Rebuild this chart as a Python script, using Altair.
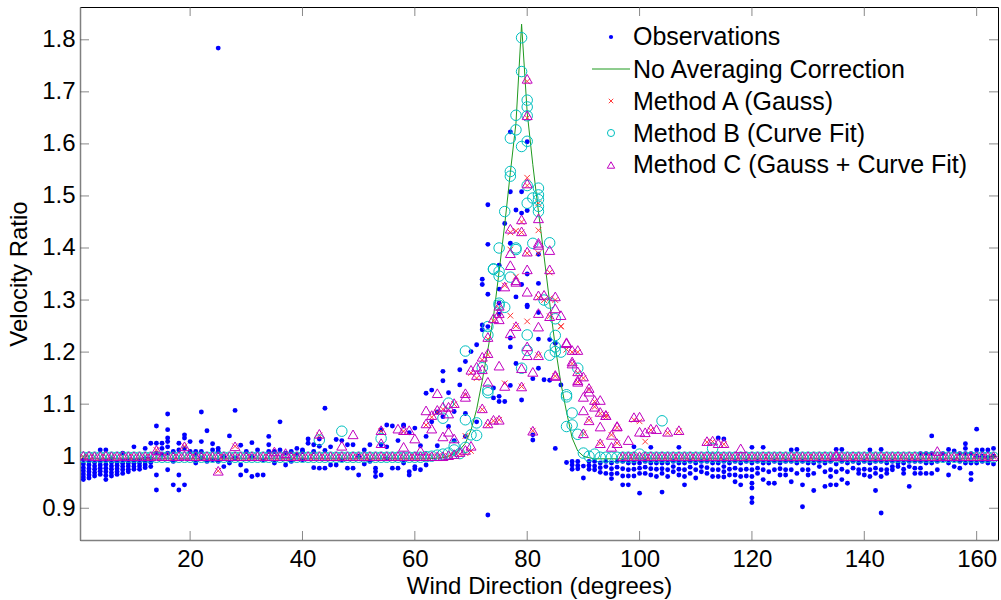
import altair as alt
import pandas as pd

FONT = "Liberation Sans"

# wind direction bins (degrees)
deg = list(range(1, 164))

# observed velocity ratios, one list per degree bin (1..163)
obs_cols = [
    [0.993, 0.985, 0.978, 0.972, 0.966, 0.960, 0.955],
    [0.990, 0.983, 0.976, 0.970, 0.964, 0.958],
    [0.988, 0.981, 0.975, 0.968, 0.962],
    [1.012, 0.990, 0.983, 0.977, 0.971, 0.965],
    [1.012, 0.992, 0.984, 0.977, 0.970, 0.963, 0.955],
    [0.995, 0.988, 0.981, 0.975, 0.968, 0.962],
    [0.988, 0.982, 0.976, 0.970, 0.965],
    [1.006, 0.992, 0.986, 0.980, 0.974, 0.967],
    [0.993, 0.987, 0.981, 0.975, 0.970],
    [1.018, 0.992, 0.986, 0.980, 0.975],
    [0.993, 0.987, 0.981, 0.975],
    [1.015, 0.995, 0.989, 0.983, 0.978],
    [1.025, 0.995, 0.988, 0.980],
    [1.058, 1.025, 1.006, 0.964, 0.935],
    [1.025, 1.015, 1.003],
    [1.081, 1.051, 1.035, 1.028, 1.018, 1.006, 0.974],
    [1.009, 0.990, 0.945],
    [1.025, 1.012, 0.964, 0.935],
    [1.041, 1.035, 1.015, 0.945],
    [1.028, 1.009],
    [1.009, 1.003, 0.987],
    [1.085, 1.028, 1.009, 0.996],
    [1.049, 0.990],
    [1.024, 1.012, 0.993],
    [1.784, 1.015, 1.009, 0.990],
    [0.999, 0.980],
    [1.039, 0.987],
    [1.088, 0.996],
    [1.021, 0.983, 0.964],
    [1.009, 0.972],
    [1.026, 0.999, 0.961],
    [1.012, 0.964],
    [0.993, 0.964],
    [1.038, 1.022, 1.009],
    [1.009, 0.987],
    [1.066, 1.012],
    [1.006, 0.983],
    [1.009, 0.990],
    [1.015, 1.003],
    [1.012, 1.009, 0.993],
    [1.033, 1.025],
    [1.022, 1.009, 0.978],
    [1.033, 1.019, 0.977],
    [1.092, 1.011, 0.977],
    [1.018, 0.983],
    [1.032, 0.983],
    [1.030, 0.993],
    [1.022, 0.977],
    [1.022, 0.977],
    [1.000, 0.964],
    [1.012, 0.985],
    [1.022, 0.990],
    [0.977, 0.970, 0.961],
    [1.051, 1.022, 0.964],
    [1.060, 1.018, 0.995],
    [1.058, 0.977],
    [1.030, 0.977],
    [1.060, 1.058, 0.987],
    [1.045, 0.970, 0.964],
    [1.054, 0.980, 0.976],
    [1.020, 0.974],
    [1.121, 1.038, 0.983],
    [1.127, 1.066],
    [1.085, 1.020],
    [1.163, 1.145, 1.076],
    [1.122, 1.057],
    [1.086, 1.030],
    [1.166, 1.137],
    [1.182, 1.082, 1.038],
    [1.201],
    [1.214, 1.066],
    [1.340, 1.330, 1.252, 1.243],
    [1.483, 1.407, 1.311, 1.249, 0.887],
    [1.131, 1.112],
    [1.367, 1.321, 1.294, 1.273, 1.115, 1.105],
    [1.447, 1.105],
    [1.623, 1.508, 1.409, 1.227, 1.210, 1.136],
    [1.473, 1.306, 1.178],
    [1.508, 1.467, 1.330, 1.108],
    [1.604, 1.472, 1.350, 1.290, 1.287],
    [1.149, 1.041, 1.031],
    [1.388, 1.332, 1.276, 1.225, 1.169],
    [1.147],
    [1.224, 1.146],
    [1.217, 1.015],
    [1.137],
    [0.988],
    [0.990, 0.983, 0.975],
    [0.990, 0.982, 0.976],
    [0.981, 0.958],
    [0.990, 0.982, 0.975],
    [0.990, 0.981, 0.974],
    [0.987, 0.978, 0.969],
    [0.990, 0.980, 0.967],
    [0.987, 0.976, 0.966, 0.957],
    [0.990, 0.979, 0.967],
    [0.990, 0.976, 0.962, 0.945],
    [0.987, 0.974, 0.962, 0.945],
    [1.018, 0.987, 0.975, 0.962],
    [0.987, 0.977, 0.967, 0.929],
    [0.990, 0.979, 0.967],
    [1.017, 0.987, 0.976, 0.964],
    [0.987, 0.975, 0.961],
    [0.987, 0.976, 0.967, 0.931],
    [0.987, 0.974, 0.961],
    [0.990, 0.980, 0.970],
    [1.017, 0.987, 0.975, 0.964],
    [0.987, 0.974, 0.961, 0.945],
    [0.990, 0.979, 0.967],
    [0.987, 0.974, 0.958],
    [0.990, 0.980, 0.970],
    [0.990, 0.978, 0.967],
    [0.987, 0.974, 0.961],
    [1.035, 0.987, 0.974, 0.961],
    [1.033, 0.990, 0.980, 0.970, 0.960],
    [0.987, 0.975, 0.964],
    [0.990, 0.977, 0.964, 0.951],
    [0.987, 0.974, 0.961, 0.945],
    [0.990, 0.975, 0.962],
    [1.017, 0.987, 0.974, 0.961, 0.948, 0.939, 0.920, 0.911],
    [0.990, 0.977, 0.967],
    [1.017, 0.987, 0.974, 0.955],
    [0.987, 0.970, 0.948],
    [0.990, 0.974, 0.948],
    [0.987, 0.976, 0.964],
    [0.990, 0.974, 0.964],
    [1.012, 0.990, 0.974, 0.951],
    [1.013, 0.987, 0.967],
    [0.990, 0.974, 0.945, 0.903],
    [0.987, 0.974, 0.964],
    [0.987, 0.967, 0.934],
    [0.990, 0.980],
    [0.987, 0.970, 0.942],
    [0.990, 0.974, 0.961, 0.945],
    [1.013, 0.985, 0.970, 0.945],
    [1.013, 0.990, 0.975, 0.955],
    [0.987, 0.970, 0.948],
    [0.990, 0.977],
    [0.987, 0.974, 0.967],
    [0.990, 0.975, 0.964],
    [1.012, 0.987, 0.974, 0.961],
    [0.990, 0.977, 0.967, 0.934],
    [1.013, 0.990, 0.974, 0.961, 0.891],
    [0.987, 0.974, 0.967],
    [0.990, 0.980, 0.974],
    [0.987, 0.980],
    [0.987, 0.975, 0.967],
    [0.990, 0.980, 0.942],
    [0.990, 0.977, 0.967],
    [1.005, 0.990, 0.977, 0.967],
    [1.005, 0.987, 0.967],
    [1.039, 1.005, 0.987, 0.967],
    [0.990, 0.974],
    [1.005, 0.993],
    [1.013, 0.987, 0.964],
    [1.010, 0.993, 0.980],
    [1.005, 0.990, 0.977],
    [1.024, 1.015, 1.005, 0.987],
    [1.005, 0.987, 0.967, 0.955],
    [1.052, 1.012, 1.000, 0.987],
    [1.012, 1.000, 0.990],
    [1.012, 0.997, 0.987],
    [1.015, 1.000, 0.985],
]

# No averaging correction curve
line_x = [1, 60, 62, 64, 65, 66, 67, 68, 69, 70, 71, 72, 73, 74, 75, 76, 77, 78,
          79, 80, 81, 82, 83, 84, 85, 86, 87, 88, 89, 90, 91, 92, 163]
line_y = [0.995, 0.995, 0.995, 0.996, 0.997, 1.000, 1.005, 1.012, 1.025, 1.050,
          1.090, 1.145, 1.205, 1.268, 1.355, 1.445, 1.545, 1.640, 1.830, 1.660,
          1.560, 1.470, 1.384, 1.295, 1.210, 1.140, 1.085, 1.035, 1.010, 1.000,
          0.997, 0.995, 0.995]

# corrected ratios: one value per degree bin ...
mA_base = [
    0.999, 0.999, 0.999, 0.999, 0.999, 0.999, 0.999, 0.999, 0.999, 0.999,
    0.999, 0.999, 0.999, 0.999, 0.999, 0.999, 0.999, 0.999, 0.999, 0.999,
    0.999, 0.999, 0.999, 0.999, 0.999, 0.999, 0.999, 0.999, 0.999, 0.999,
    0.999, 0.999, 0.999, 0.999, 0.999, 0.999, 0.999, 0.999, 0.999, 0.999,
    0.999, 0.999, 0.999, 0.999, 0.999, 0.999, 0.999, 0.999, 0.999, 0.999,
    0.999, 0.999, 0.999, 0.999, 0.999, 0.999, 0.999, 0.999, 0.999, 0.999,
    0.999, 0.999, 0.999, 0.999, 1.000, 1.000, 1.002, 1.004, 1.006, 1.010,
    1.150, 1.090, 1.060, 1.068, 1.070, 1.140, 1.270, 1.250, 1.134, 1.259,
    1.049, 1.194, 1.300, 1.269, 1.154, 1.249, 1.205, 1.178, 1.143, 1.044,
    1.069, 1.095, 1.025, 1.079, 1.041, 1.025, 0.999, 0.999, 0.999, 0.999,
    0.999, 0.999, 0.999, 0.999, 0.999, 0.999, 0.999, 0.999, 0.999, 0.999,
    0.999, 0.999, 0.999, 0.999, 0.999, 0.999, 0.999, 0.999, 0.999, 0.999,
    0.999, 0.999, 0.999, 0.999, 0.999, 0.999, 0.999, 0.999, 0.999, 0.999,
    0.999, 0.999, 0.999, 0.999, 0.999, 0.999, 0.999, 0.999, 0.999, 0.999,
    0.999, 0.999, 0.999, 0.999, 0.999, 0.999, 0.999, 0.999, 0.999, 0.999,
    0.999, 0.999, 0.999, 0.999, 0.999, 0.999, 0.999, 0.999, 0.999, 0.999,
    0.999, 0.999, 0.999,
]
mB_base = [
    0.998, 0.998, 0.998, 0.998, 0.998, 0.998, 0.998, 0.998, 0.998, 0.998,
    0.998, 0.998, 0.998, 0.998, 0.998, 0.998, 0.998, 0.998, 0.998, 0.998,
    0.998, 0.998, 0.998, 0.998, 0.998, 0.998, 0.998, 0.998, 0.998, 0.998,
    0.998, 0.998, 0.998, 0.998, 0.998, 0.998, 0.998, 0.998, 0.998, 0.998,
    0.998, 0.998, 0.998, 0.998, 0.998, 0.998, 0.998, 0.998, 0.998, 0.998,
    0.998, 0.998, 0.998, 0.998, 0.998, 0.998, 0.998, 0.998, 0.998, 0.998,
    0.998, 0.999, 1.000, 1.002, 1.004, 1.006, 1.012, 1.005, 1.017, 1.041,
    1.040, 1.170, 1.127, 1.359, 1.290, 1.286, 1.344, 1.397, 1.169, 1.203,
    1.409, 1.470, 1.300, 1.194, 1.201, 1.200, 1.057, 1.060, 1.042, 1.006,
    1.000, 1.004, 0.998, 0.998, 0.998, 0.998, 0.998, 0.998, 0.998, 1.004,
    0.998, 0.998, 0.998, 0.998, 0.998, 0.998, 0.998, 0.998, 0.998, 0.998,
    0.998, 0.998, 0.998, 0.998, 0.998, 0.998, 0.998, 0.998, 0.998, 0.998,
    0.998, 0.998, 0.998, 0.998, 0.998, 0.998, 0.998, 0.998, 0.998, 0.998,
    0.998, 0.998, 0.998, 0.998, 0.998, 0.998, 0.998, 0.998, 0.998, 0.998,
    0.998, 0.998, 0.998, 0.998, 0.998, 0.998, 0.998, 0.998, 0.998, 0.998,
    0.998, 0.998, 0.998, 0.998, 0.998, 0.998, 0.998, 0.998, 0.998, 0.998,
    0.998, 0.998, 0.998,
]
mC_base = [
    1.001, 1.001, 1.000, 1.000, 1.001, 1.000, 1.000, 1.001, 1.000, 1.000,
    1.000, 1.000, 1.000, 1.001, 1.000, 1.000, 1.000, 1.000, 1.001, 1.000,
    1.000, 1.000, 1.000, 1.000, 1.000, 1.000, 1.000, 1.000, 1.000, 1.000,
    1.000, 1.000, 1.000, 1.000, 1.000, 1.000, 1.000, 1.000, 1.000, 1.000,
    1.000, 1.000, 1.000, 1.000, 1.000, 1.000, 1.000, 1.000, 1.000, 1.000,
    1.000, 1.000, 1.000, 1.000, 1.000, 1.000, 1.000, 1.000, 1.000, 1.000,
    1.000, 1.000, 1.000, 1.000, 1.000, 1.002, 1.004, 1.008, 1.012, 1.020,
    1.156, 1.092, 1.063, 1.070, 1.070, 1.135, 1.236, 1.250, 1.134, 1.194,
    1.049, 1.194, 1.310, 1.269, 1.154, 1.271, 1.217, 1.178, 1.143, 1.044,
    1.069, 1.095, 1.025, 1.079, 1.041, 1.025, 1.000, 1.000, 1.000, 1.000,
    1.000, 1.000, 1.000, 1.000, 1.000, 1.000, 1.000, 1.000, 1.000, 1.000,
    1.000, 1.000, 1.000, 1.000, 1.000, 1.000, 1.000, 1.000, 1.000, 1.000,
    1.000, 1.000, 1.000, 1.000, 1.000, 1.000, 1.000, 1.000, 1.000, 1.000,
    1.000, 1.000, 1.000, 1.000, 1.000, 1.000, 1.000, 1.000, 1.000, 1.000,
    1.000, 1.000, 1.000, 1.000, 1.000, 1.000, 1.000, 1.000, 1.000, 1.000,
    1.000, 1.000, 1.000, 1.000, 1.000, 1.000, 1.000, 1.000, 1.000, 1.000,
    1.000, 1.000, 1.000,
]

# ... plus the additional (elevated) corrected points
mA_extra = [
    (14, 1.012), (19, 1.019), (25, 0.972), (28, 1.019), (43, 1.040), (54, 1.048),
    (58, 1.048), (62, 1.060), (63, 1.075), (64, 1.085), (65, 1.090), (66, 1.090),
    (67, 1.100), (69, 1.039), (69, 1.118), (70, 1.160), (72, 1.185), (73, 1.225),
    (73, 1.195), (74, 1.260), (75, 1.285), (75, 1.270), (76, 1.328), (77, 1.430),
    (77, 1.397), (78, 1.433), (78, 1.345), (79, 1.450), (79, 1.430), (80, 1.720),
    (80, 1.650), (80, 1.535), (80, 1.520), (80, 1.390), (82, 1.486), (82, 1.434),
    (82, 1.390), (82, 1.305), (84, 1.353), (84, 1.303), (85, 1.300), (86, 1.250),
    (87, 1.205), (88, 1.200), (89, 1.200), (89, 1.160), (90, 1.150), (91, 1.128),
    (92, 1.105), (93, 1.082), (94, 1.075), (96, 1.055), (99, 1.070), (100, 1.067),
    (101, 1.028), (102, 1.050), (105, 1.045), (107, 1.048), (112, 1.027),
    (113, 1.028), (115, 1.023),
]
mB_extra = [
    (43, 1.031), (47, 1.048), (54, 1.034), (65, 1.073), (66, 1.102), (67, 1.019),
    (69, 1.202), (69, 1.070), (71, 1.064), (73, 1.249), (73, 1.233), (73, 1.122),
    (74, 1.360), (75, 1.400), (75, 1.355), (75, 1.346), (75, 1.294), (76, 1.470),
    (77, 1.611), (77, 1.547), (77, 1.538), (78, 1.655), (78, 1.627), (78, 1.400),
    (79, 1.804), (79, 1.739), (79, 1.595), (80, 1.684), (80, 1.671), (80, 1.654),
    (80, 1.605), (80, 1.520), (80, 1.486), (80, 1.233), (81, 1.496), (82, 1.515),
    (82, 1.502), (82, 1.493), (82, 1.480), (84, 1.410), (84, 1.294), (85, 1.264),
    (85, 1.232), (85, 1.210), (87, 1.114), (87, 1.118), (88, 1.083), (89, 1.169),
    (104, 1.068), (113, 1.015),
]
mC_extra = [
    (14, 1.012), (19, 1.019), (25, 0.972), (28, 1.019), (35, 1.009), (37, 1.006),
    (43, 1.043), (47, 1.020), (49, 1.042), (54, 1.050), (54, 1.025), (57, 1.053),
    (58, 1.018), (58, 1.050), (59, 1.050), (60, 1.034), (61, 1.011), (62, 1.063),
    (62, 1.088), (63, 1.053), (63, 1.079), (64, 1.089), (64, 1.121), (65, 1.095),
    (65, 1.038), (66, 1.095), (66, 1.082), (66, 1.047), (67, 1.102), (67, 1.034),
    (69, 1.121), (69, 1.114), (70, 1.166), (71, 1.172), (72, 1.191), (72, 1.167),
    (73, 1.229), (73, 1.198), (73, 1.143), (74, 1.265), (75, 1.289), (75, 1.263),
    (75, 1.275), (75, 1.174), (76, 1.326), (77, 1.437), (77, 1.390), (77, 1.367),
    (78, 1.338), (78, 1.335), (79, 1.455), (79, 1.432), (79, 1.169), (80, 1.725),
    (80, 1.655), (80, 1.524), (80, 1.393), (80, 1.359), (80, 1.316), (80, 1.211),
    (81, 1.162), (82, 1.457), (82, 1.410), (82, 1.406), (82, 1.309), (82, 1.249),
    (82, 1.275), (84, 1.396), (84, 1.359), (85, 1.307), (85, 1.284), (85, 1.156),
    (87, 1.219), (88, 1.204), (88, 1.182), (89, 1.204), (89, 1.163), (89, 1.146),
    (90, 1.153), (90, 1.114), (90, 1.088), (91, 1.131), (91, 1.124), (92, 1.108),
    (93, 1.108), (93, 1.085), (93, 1.057), (94, 1.079), (95, 1.018), (96, 1.058),
    (96, 1.057), (98, 1.031), (99, 1.075), (100, 1.076), (100, 1.047), (101, 1.046),
    (102, 1.053), (103, 1.052), (105, 1.047), (107, 1.050), (112, 1.029),
    (113, 1.030), (114, 1.025), (115, 1.025), (118, 1.015), (135, 1.003),
    (153, 1.010),
]

x_ticks = [20, 40, 60, 80, 100, 120, 140, 160]
y_ticks = [0.9, 1.0, 1.1, 1.2, 1.3, 1.4, 1.5, 1.6, 1.7, 1.8]

legend_labels = ["Observations", "No Averaging Correction", "Method A (Gauss)",
                 "Method B (Curve Fit)", "Method C (Gauss + Curve Fit)"]

# ---------------- tables ----------------
obs_df = pd.DataFrame([(d, v) for d, col in zip(deg, obs_cols) for v in col],
                      columns=["x", "y"])
line_df = pd.DataFrame({"x": line_x, "y": line_y})


def method_df(base, extra):
    rows = list(zip(deg, base)) + list(extra)
    return pd.DataFrame(rows, columns=["x", "y"])


a_df = method_df(mA_base, mA_extra)
b_df = method_df(mB_base, mB_extra)
c_df = method_df(mC_base, mC_extra)
xt_df = pd.DataFrame({"x": x_ticks})
yt_df = pd.DataFrame({"y": y_ticks})

W, H = 918, 533
xs = alt.Scale(domain=[0.4, 163.8], nice=False, zero=False)
ys = alt.Scale(domain=[0.839, 1.863], nice=False, zero=False)

x_axis = alt.Axis(values=x_ticks, title="Wind Direction (degrees)", format="d",
                  labelPadding=7, titlePadding=3)
y_axis = alt.Axis(values=y_ticks, title="Velocity Ratio", format="~g",
                  labelPadding=5, titlePadding=10)

X = alt.X("x:Q", scale=xs, axis=x_axis)
Y = alt.Y("y:Q", scale=ys, axis=y_axis)

obs_layer = alt.Chart(obs_df).mark_circle(size=24, color="#0000ff", opacity=1,
                                          clip=True).encode(x=X, y=Y)
line_layer = alt.Chart(line_df).mark_line(color="#1f9a1f", strokeWidth=1,
                                          clip=True).encode(x=X, y=Y)
CROSS = "M-1,-1L1,1M-1,1L1,-1"
a_layer = alt.Chart(a_df).mark_point(shape=CROSS, filled=False, color="#ff3b3b",
                                     size=32, strokeWidth=1, opacity=1,
                                     clip=True).encode(x=X, y=Y)
b_layer = alt.Chart(b_df).mark_point(shape="circle", filled=False, color="#00bfbf",
                                     size=110, strokeWidth=1, opacity=1,
                                     clip=True).encode(x=X, y=Y)
c_layer = alt.Chart(c_df).mark_point(shape="triangle-up", filled=False,
                                     color="#c000c0", size=100, strokeWidth=1,
                                     opacity=1, clip=True).encode(x=X, y=Y)

TICK = "#555555"
tick_b = alt.Chart(xt_df).mark_tick(orient="vertical", size=18, thickness=1,
                                    color=TICK, clip=True).encode(
    x=X, y=alt.value(H))
tick_t = alt.Chart(xt_df).mark_tick(orient="vertical", size=18, thickness=1,
                                    color=TICK, clip=True).encode(
    x=X, y=alt.value(0))
tick_l = alt.Chart(yt_df).mark_tick(orient="horizontal", size=18, thickness=1,
                                    color=TICK, clip=True).encode(
    y=Y, x=alt.value(0))
tick_r = alt.Chart(yt_df).mark_tick(orient="horizontal", size=18, thickness=1,
                                    color=TICK, clip=True).encode(
    y=Y, x=alt.value(W))

# ---------------- legend (inside the plot, top right) ----------------
one = pd.DataFrame({"k": [0]})
sym_x = 531
text_x = 553
sym_y = [30, 62, 94, 126, 158]
txt_y = [38, 71, 103, 135, 166]

leg = []
leg.append(alt.Chart(one).mark_circle(size=18, color="#0000ff", opacity=1).encode(
    x=alt.value(sym_x), y=alt.value(sym_y[0])))
leg.append(alt.Chart(one).mark_rule(color="#1f9a1f", strokeWidth=1).encode(
    x=alt.value(512), x2=alt.value(550), y=alt.value(sym_y[1])))
leg.append(alt.Chart(one).mark_point(shape=CROSS, filled=False, color="#ff3b3b",
                                     size=20, strokeWidth=1, opacity=1).encode(
    x=alt.value(sym_x), y=alt.value(sym_y[2])))
leg.append(alt.Chart(one).mark_point(shape="circle", filled=False, color="#00bfbf",
                                     size=50, strokeWidth=1, opacity=1).encode(
    x=alt.value(sym_x), y=alt.value(sym_y[3])))
leg.append(alt.Chart(one).mark_point(shape="triangle-up", filled=False,
                                     color="#c000c0", size=55, strokeWidth=1,
                                     opacity=1).encode(
    x=alt.value(sym_x), y=alt.value(sym_y[4])))
for lab, ty in zip(legend_labels, txt_y):
    leg.append(alt.Chart(one).mark_text(text=lab, align="left", baseline="alphabetic",
                                        font=FONT, fontSize=25, color="#000000").encode(
        x=alt.value(text_x), y=alt.value(ty)))

chart = alt.layer(
    obs_layer, line_layer, a_layer, b_layer, c_layer,
    tick_b, tick_t, tick_l, tick_r, *leg
).properties(
    width=W, height=H,
    autosize=alt.AutoSizeParams(type="none"),
    padding={"left": 80, "top": 7, "right": 3, "bottom": 60},
    background="white",
).configure_view(
    stroke="#000000", strokeWidth=1
).configure_axis(
    grid=False, ticks=False,
    domainColor="#808080", domainWidth=1.5,
    labelFont=FONT, titleFont=FONT,
    labelFontSize=24, titleFontSize=24,
    labelColor="#000000", titleColor="#000000",
    titleFontWeight="normal",
)

chart.save("out.html", embed_options={"renderer": "svg", "actions": False})
